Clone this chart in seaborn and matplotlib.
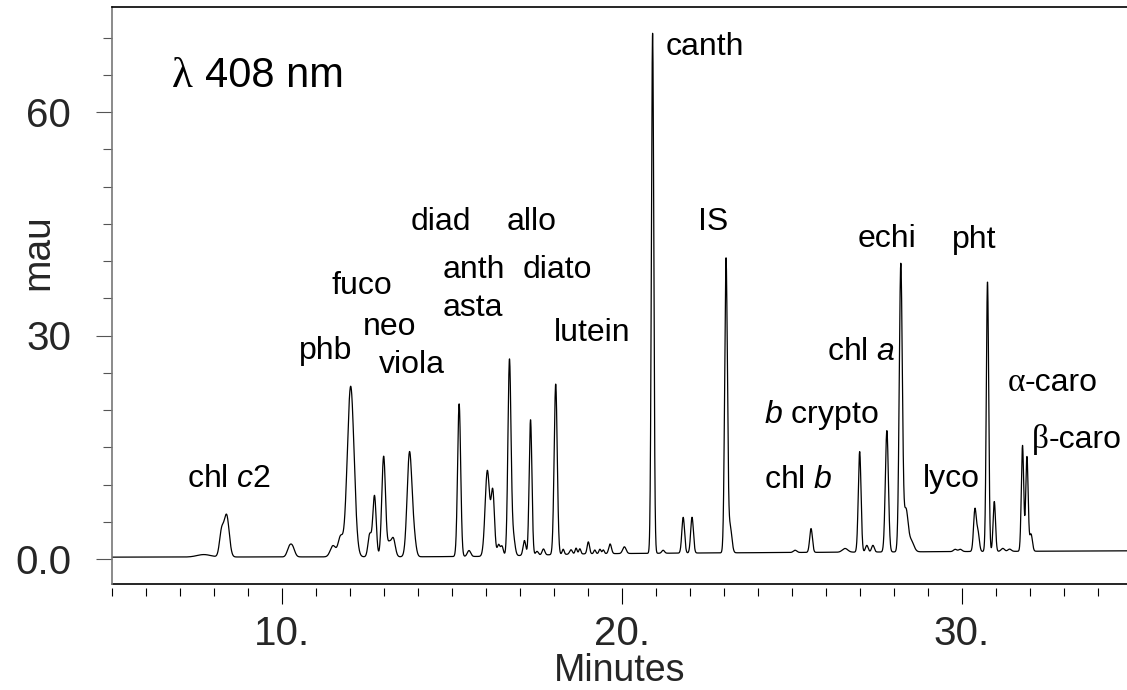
import numpy as np
import pandas as pd
import matplotlib
matplotlib.use("Agg")
import matplotlib.pyplot as plt
import seaborn as sns

# ---------------- data ----------------
# peak table: retention time (min), height above baseline (mau), peak sigma (min)
peak_time = [7.70, 8.22, 8.37, 10.20, 10.30, 11.50, 11.72, 12.02, 12.58, 12.72,
             12.99, 13.15, 13.27, 13.75, 13.88, 15.21, 15.50, 16.04, 16.20, 16.37,
             16.47, 16.69, 16.80, 17.13, 17.31, 17.50, 17.69, 18.05, 18.27, 18.50,
             18.65, 18.76, 19.01, 19.20, 19.35, 19.45, 19.65, 20.07, 20.90, 21.21,
             21.80, 22.06, 23.06, 23.18, 25.09, 25.56, 26.56, 26.99, 27.20, 27.38,
             27.79, 28.20, 28.35, 28.50, 29.80, 29.95, 30.38, 30.47, 30.75, 30.95,
             31.20, 31.40, 31.78, 31.91, 32.03]
peak_height = [0.33, 3.2, 5.6, 0.9, 1.4, 1.5, 2.6, 22.9, 3.0, 8.2,
               13.5, 1.6, 2.5, 13.9, 2.3, 20.5, 0.8, 11.5, 8.5, 1.5,
               1.3, 26.2, 2.6, 2.0, 18.2, 0.5, 0.8, 22.9, 0.7, 0.6,
               0.8, 0.7, 1.6, 0.5, 0.6, 0.5, 1.3, 0.9, 69.8, 0.4,
               4.8, 4.8, 39.4, 3.5, 0.3, 3.2, 0.5, 13.5, 0.9, 0.9,
               16.3, 38.5, 5.5, 1.5, 0.3, 0.3, 5.6, 2.5, 36.2, 6.7,
               0.4, 0.3, 14.2, 12.7, 2.3]
peak_sigma = [0.20, 0.06, 0.075, 0.06, 0.07, 0.08, 0.07, 0.10, 0.05, 0.05,
              0.055, 0.05, 0.06, 0.07, 0.06, 0.045, 0.05, 0.065, 0.05, 0.04,
              0.04, 0.045, 0.05, 0.04, 0.04, 0.04, 0.04, 0.045, 0.03, 0.04,
              0.03, 0.03, 0.035, 0.03, 0.03, 0.03, 0.04, 0.05, 0.035, 0.04,
              0.04, 0.04, 0.04, 0.05, 0.05, 0.04, 0.08, 0.04, 0.04, 0.04,
              0.045, 0.045, 0.06, 0.08, 0.05, 0.05, 0.04, 0.04, 0.035, 0.035,
              0.05, 0.05, 0.035, 0.035, 0.04]
# baseline drift (min, mau)
baseline_time = [5.0, 14.0, 16.0, 19.0, 22.0, 26.0, 30.0, 35.0]
baseline_level = [0.25, 0.30, 0.35, 0.70, 0.80, 0.90, 1.00, 1.10]

# axis ticks
x_major = [10, 20, 30]
x_major_labels = ["10.", "20.", "30."]
y_major = [0, 30, 60]
y_major_labels = ["0.0", "30", "60"]

# peak annotations (text, time, mau at baseline of text)
peak_labels = [
    ("chl $\\mathit{c2}$", 8.44, 9.7),
    ("phb", 11.29, 26.9),
    ("fuco", 12.34, 35.6),
    ("neo", 13.15, 30.1),
    ("viola", 13.81, 24.9),
    ("diad", 14.67, 44.2),
    ("allo", 17.35, 44.2),
    ("anth", 15.63, 37.7),
    ("asta", 15.60, 32.6),
    ("diato", 18.10, 37.7),
    ("lutein", 19.13, 29.2),
    ("canth", 22.44, 67.7),
    ("IS", 22.69, 44.1),
    ("echi", 27.78, 41.9),
    ("pht", 30.37, 41.8),
    ("chl $\\mathit{a}$", 27.05, 26.7),
    ("$\\mathit{b}$ crypto", 25.85, 18.3),
    ("chl $\\mathit{b}$", 25.18, 9.5),
    ("lyco", 29.70, 9.6),
]
greek_labels = [("\u03b1", "-caro", 31.85, 22.6), ("\u03b2", "-caro", 32.54, 14.9)]

# ---------------- build trace ----------------
t = np.arange(5.0, 34.9, 0.004)
signal = np.interp(t, baseline_time, baseline_level)
for tc, h, s in zip(peak_time, peak_height, peak_sigma):
    signal = signal + h * np.exp(-0.5 * ((t - tc) / s) ** 2)
df = pd.DataFrame({"Minutes": t, "mau": signal})

# ---------------- plot ----------------
sns.set_theme(style="white")
plt.rcParams["font.family"] = ["Liberation Sans", "DejaVu Sans"]
plt.rcParams["mathtext.fontset"] = "custom"
plt.rcParams["mathtext.rm"] = "Liberation Sans"
plt.rcParams["mathtext.it"] = "Liberation Sans:italic"

fig = plt.figure(figsize=(11.27, 6.9), dpi=100)
ax = fig.add_axes([112 / 1127, 106 / 690, 1015 / 1127, 577 / 690])
sns.lineplot(data=df, x="Minutes", y="mau", ax=ax, color="black", linewidth=0.9,
             estimator=None, sort=False)

ax.set_xlim(5.0, 5.0 + 1015 / 34)
ax.set_ylim(-25 / 7.45, 552 / 7.45)

ax.set_xticks(x_major, labels=x_major_labels)
ax.set_xticks(np.arange(5, 35, 1), minor=True)
ax.set_yticks(y_major, labels=y_major_labels)
ax.set_yticks(np.arange(5, 71, 5), minor=True)

ax.tick_params(axis="x", which="major", direction="out", length=11.5, width=0.8,
               color="black", labelsize=29, pad=8, bottom=True)
ax.tick_params(axis="x", which="minor", direction="out", length=5.8, width=0.8,
               color="black", bottom=True)
ax.tick_params(axis="y", which="major", direction="out", length=11.5, width=0.8,
               color="#555555", labelsize=29, pad=18, left=True)
ax.tick_params(axis="y", which="minor", direction="out", length=6.5, width=0.8,
               color="#555555", left=True)

ax.spines["right"].set_visible(False)
ax.spines["top"].set_color("black")
ax.spines["top"].set_linewidth(1.2)
ax.spines["left"].set_color("#777777")
ax.spines["left"].set_linewidth(1.2)
ax.spines["bottom"].set_position(("outward", 3))
ax.spines["bottom"].set_visible(False)
ax.plot([0, 1], [0, 0], transform=ax.transAxes, color="black", lw=1.2, clip_on=False)

ax.set_xlabel("Minutes", fontsize=27, labelpad=0)
ax.set_ylabel("mau", fontsize=28)
ax.yaxis.set_label_coords(-0.055, 0.576)

for txt, x, y in peak_labels:
    ax.text(x, y, txt, fontsize=23, ha="center", va="baseline", color="black")
for g, rest, x, y in greek_labels:
    ax.text(x, y, g, fontsize=24, ha="right", va="baseline",
            family=["Liberation Serif", "DejaVu Serif"], color="black")
    ax.text(x, y, rest, fontsize=23, ha="left", va="baseline", color="black")

ax.text(6.75, 63.3, "\u03bb", fontsize=31, ha="left", va="baseline",
        family=["Liberation Serif", "DejaVu Serif"], color="black")
ax.text(7.74, 63.3, "408 nm", fontsize=30, ha="left", va="baseline", color="black")

fig.savefig("out.png", dpi=100)
